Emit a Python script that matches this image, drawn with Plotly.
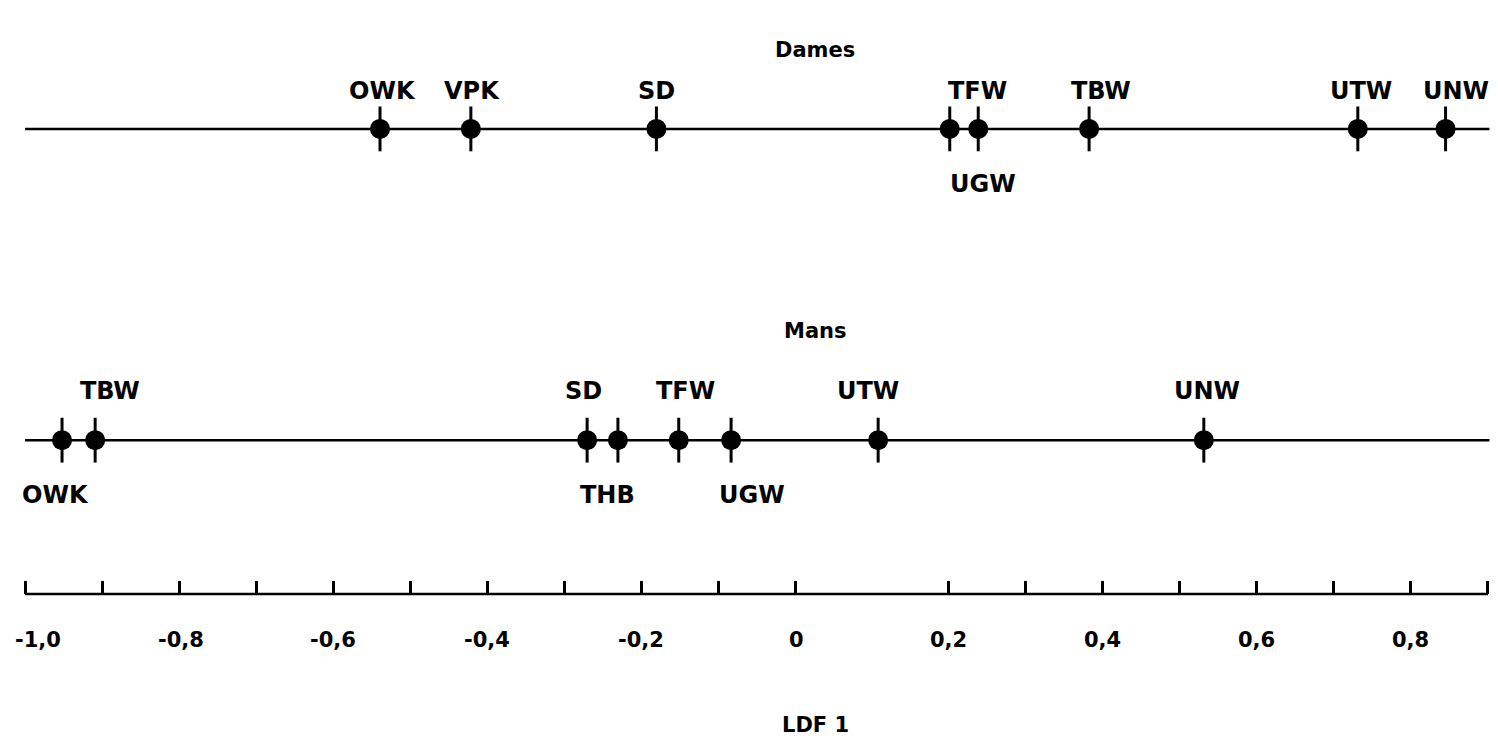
import plotly.graph_objects as go

# ---- data ----
dames_labels = ["OWK", "VPK", "SD", "TFW", "UGW", "TBW", "UTW", "UNW"]
dames_values = [-0.539, -0.421, -0.180, 0.201, 0.238, 0.382, 0.731, 0.845]
dames_label_side = ["above", "above", "above", "above", "below", "above", "above", "above"]

mans_labels = ["OWK", "TBW", "SD", "THB", "TFW", "UGW", "UTW", "UNW"]
mans_values = [-0.952, -0.909, -0.270, -0.230, -0.151, -0.083, 0.108, 0.531]
mans_label_side = ["below", "above", "above", "below", "above", "below", "above", "above"]

tick_values = [-1.0, -0.9, -0.8, -0.7, -0.6, -0.5, -0.4, -0.3, -0.2, -0.1, 0.0,
               0.2, 0.3, 0.4, 0.5, 0.6, 0.7, 0.8, 0.9]
label_values = [-1.0, -0.8, -0.6, -0.4, -0.2, 0.0, 0.2, 0.4, 0.6, 0.8]
label_texts = ["-1,0", "-0,8", "-0,6", "-0,4", "-0,2", "0", "0,2", "0,4", "0,6", "0,8"]

x_min, x_max = -1.0, 0.9

# ---- layout / style ----
FONT = "DejaVu Sans"
PAD = 0.004
row_y = {"Dames": 0.783, "Mans": 0.259}
above_shift = {"Dames": 38, "Mans": 49}
below_shift = 55
dames_dx = [2, 1, 0, 28, 5, 12, 3, 10]
mans_dx = [-7, 15, -4, -10, 7, 21, -10, 3]
label_dx = [13, 2, 0, 0, 0, 1, 0, 0, 0, 0]

fig = go.Figure()
annotations = []

for name, vals, labs, sides, dxs in [
    ("Dames", dames_values, dames_labels, dames_label_side, dames_dx),
    ("Mans", mans_values, mans_labels, mans_label_side, mans_dx),
]:
    y0 = row_y[name]
    fig.add_trace(go.Scatter(x=[x_min, x_max + 0.002], y=[y0, y0], mode="lines",
                             line=dict(color="black", width=2.5),
                             hoverinfo="skip", showlegend=False))
    fig.add_trace(go.Scatter(x=vals, y=[y0] * len(vals), mode="markers",
                             marker=dict(symbol="line-ns", size=32,
                                         line=dict(color="black", width=3)),
                             hoverinfo="skip", showlegend=False))
    fig.add_trace(go.Scatter(x=vals, y=[y0] * len(vals), mode="markers",
                             marker=dict(symbol="circle", size=20, color="black",
                                         line=dict(width=0)),
                             text=labs, hoverinfo="text+x", showlegend=False))
    for v, lab, side, dx in zip(vals, labs, sides, dxs):
        annotations.append(dict(
            x=v, y=y0, xref="x", yref="y", text=lab, showarrow=False,
            xanchor="center", yanchor="middle", xshift=dx,
            yshift=above_shift[name] if side == "above" else -below_shift,
            font=dict(family=FONT, size=24, color="black", weight="bold")))

# tick labels
for v, t, dx in zip(label_values, label_texts, label_dx):
    annotations.append(dict(
        x=v, y=(594 - 640) / 594, xref="x", yref="paper", text=t, showarrow=False,
        xanchor="center", yanchor="middle", xshift=dx,
        font=dict(family=FONT, size=21, color="black", weight="bold")))

# section titles and axis title
for txt, py in [("Dames", 50), ("Mans", 331), ("LDF 1", 725)]:
    annotations.append(dict(
        x=0.026, y=(594 - py) / 594, xref="x", yref="paper",
        text=txt, showarrow=False, xanchor="center", yanchor="middle",
        font=dict(family=FONT, size=21, color="black", weight="bold")))

fig.update_layout(
    width=1498, height=752,
    margin=dict(l=22, r=7, t=0, b=158),
    paper_bgcolor="white", plot_bgcolor="white",
    showlegend=False,
    annotations=annotations,
    shapes=[dict(type="line", xref="x", yref="paper", x0=x_min, x1=x_max,
                 y0=0, y1=0, line=dict(color="black", width=2.5))],
    xaxis=dict(range=[x_min - PAD, x_max + PAD], showgrid=False, zeroline=False,
               showline=False,
               ticks="inside", ticklen=13, tickwidth=2.5, tickcolor="black",
               tickmode="array", tickvals=tick_values,
               ticktext=[""] * len(tick_values)),
    yaxis=dict(range=[0, 1], visible=False, showgrid=False, zeroline=False),
)

fig.write_html("out.html")
